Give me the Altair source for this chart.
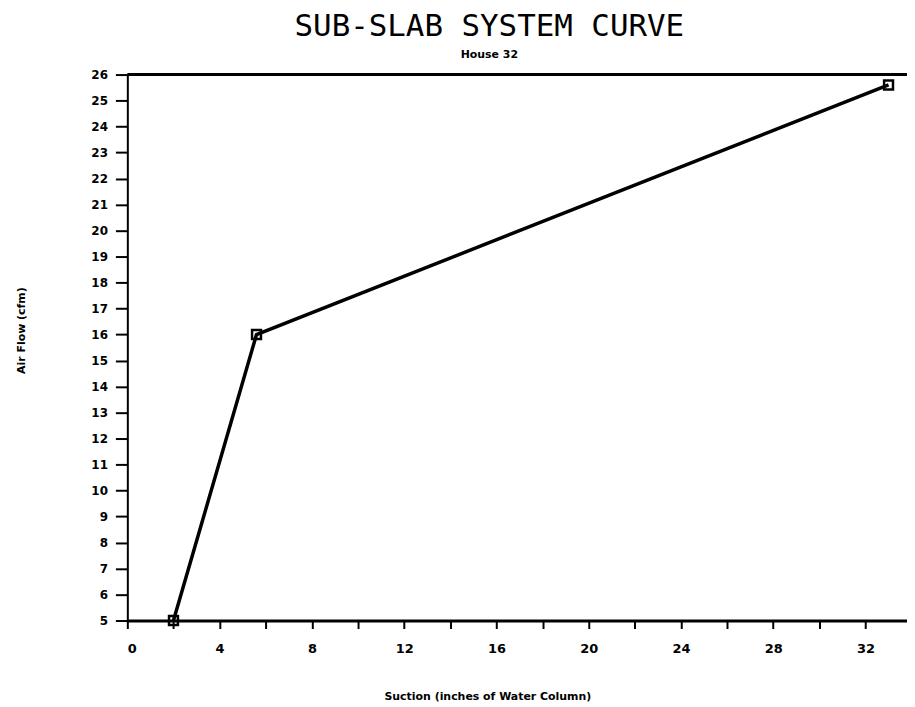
import altair as alt
import pandas as pd

suction = [2.0, 5.6, 33.0]
airflow = [5.0, 16.0, 25.6]
x_ticks = list(range(0, 34, 2))
y_ticks = list(range(5, 27))
top_value = [26]

df = pd.DataFrame({"suction": suction, "airflow": airflow})
top = pd.DataFrame({"y": top_value})

xs = alt.Scale(domain=[0, 33.8], nice=False, zero=False)
ys = alt.Scale(domain=[5, 26], nice=False, zero=False)

x_axis = alt.Axis(
    values=x_ticks,
    labelExpr="datum.value % 4 == 0 ? datum.label : ''",
    labelOverlap=False,
    grid=False, tickSize=8, tickWidth=2, tickColor="black",
    domainColor="black", domainWidth=3,
    labelFont="DejaVu Sans", labelFontWeight="bold", labelFontSize=13,
    labelColor="black", labelPadding=14,
    title="Suction (inches of Water Column)",
    titleFont="DejaVu Sans", titleFontWeight="bold", titleFontSize=11,
    titleColor="black", titleX=362, titleY=76, titleBaseline="middle",
)
y_axis = alt.Axis(
    values=y_ticks, labelOverlap=False,
    grid=False, tickSize=12, tickWidth=2, tickColor="black",
    domainColor="black", domainWidth=2,
    labelFont="DejaVu Sans", labelFontWeight="bold", labelFontSize=12,
    labelColor="black", labelPadding=8,
    title="Air Flow (cfm)",
    titleFont="DejaVu Sans", titleFontWeight="bold", titleFontSize=11,
    titleColor="black", titleX=-106, titleY=257, titleAngle=-90,
    titleBaseline="middle", titleAlign="center",
)

line = alt.Chart(df).mark_line(color="black", strokeWidth=3.5).encode(
    x=alt.X("suction:Q", scale=xs, axis=x_axis),
    y=alt.Y("airflow:Q", scale=ys, axis=y_axis),
)
pts = alt.Chart(df).mark_point(shape="square", filled=False, color="black",
                               size=80, strokeWidth=2.5, opacity=1).encode(
    x=alt.X("suction:Q", scale=xs, axis=x_axis),
    y=alt.Y("airflow:Q", scale=ys, axis=y_axis),
)
rule = alt.Chart(top).mark_rule(color="black", strokeWidth=3).encode(
    y=alt.Y("y:Q", scale=ys, axis=y_axis)
)

chart = (line + rule + pts).properties(
    width=784, height=549,
    autosize=alt.AutoSizeParams(type="none"),
    padding={"left": 120, "top": 65, "right": 0, "bottom": 82},
    title=alt.TitleParams(
        text="SUB-SLAB SYSTEM CURVE", subtitle="House 32",
        font="DejaVu Sans Mono", fontSize=31, fontWeight="normal", color="black",
        subtitleFont="DejaVu Sans", subtitleFontSize=11, subtitleFontWeight="bold",
        subtitleColor="black", subtitlePadding=6, anchor="middle", dx=-28, offset=8,
    ),
).configure_view(stroke=None)

chart.save("out.html", embed_options={"renderer": "svg", "actions": False})
